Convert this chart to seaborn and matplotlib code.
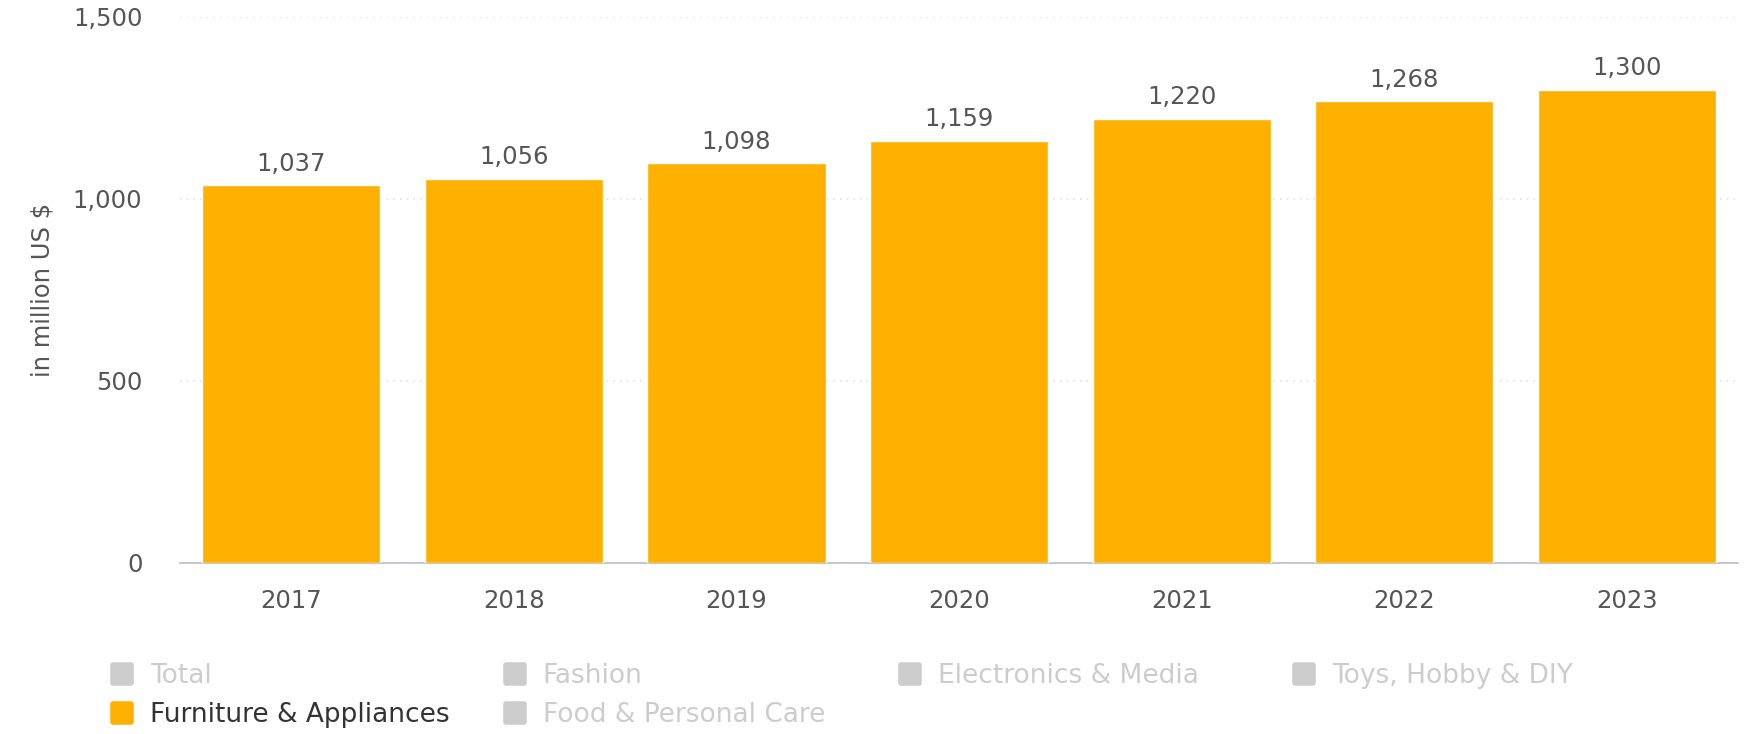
"""Furniture & Appliances revenue 2017-2023, bar chart in the style of the reference."""
import matplotlib
matplotlib.use("Agg")
import matplotlib.pyplot as plt
from matplotlib.lines import Line2D
from matplotlib.markers import MarkerStyle
from matplotlib.ticker import FuncFormatter
import pandas as pd
import seaborn as sns

years = ["2017", "2018", "2019", "2020", "2021", "2022", "2023"]
revenue = [1037, 1056, 1098, 1159, 1220, 1268, 1300]
yticks = [0, 500, 1000, 1500]
legend_labels = ["Total", "Furniture & Appliances", "Fashion", "Food & Personal Care",
                 "Electronics & Media", "Toys, Hobby & DIY"]
legend_active = ["Furniture & Appliances"]

BAR = "#FFB000"
TEXT = "#555555"
GREY = "#cccccc"
FS = 17.5

sns.set_theme(style="white")
plt.rcParams["font.family"] = ["DejaVu Sans"]

df = pd.DataFrame({"year": years, "revenue": revenue})

fig = plt.figure(figsize=(17.55, 7.34), dpi=100)
ax = fig.add_axes([0.1025, 0.233, 0.888, 0.744])

sns.barplot(data=df, x="year", y="revenue", color=BAR, saturation=1,
            width=0.8, ax=ax, zorder=3)
ax.bar_label(ax.containers[0], labels=[f"{v:,}" for v in revenue],
             padding=7, fontsize=FS, color=TEXT)

ax.set_xlim(-0.5, len(years) - 0.5)
ax.set_ylim(0, 1500)
ax.set_yticks(yticks)
ax.yaxis.set_major_formatter(FuncFormatter(lambda v, _: f"{v:,.0f}"))
ax.tick_params(axis="y", length=0, pad=27, labelsize=FS, labelcolor=TEXT)
ax.tick_params(axis="x", length=0, pad=19, labelsize=FS, labelcolor=TEXT)
ax.set_xlabel("")
ax.set_ylabel("in million US $", fontsize=FS, color=TEXT, labelpad=13)

ax.grid(axis="y", color="#e2e2e2", linestyle=(0, (1, 3)), linewidth=1.2, zorder=0)
for side in ("top", "right", "left"):
    ax.spines[side].set_visible(False)
ax.spines["bottom"].set_color("#b8bfcc")
ax.spines["bottom"].set_linewidth(1.2)

# legend: 4 columns laid out like the reference (column-wise)
columns = [legend_labels[0:2], legend_labels[2:4], legend_labels[4:5], legend_labels[5:6]]
col_x = [0.0621, 0.286, 0.511, 0.7356]
for labels, x in zip(columns, col_x):
    handles = []
    for lab in labels:
        c = BAR if lab in legend_active else GREY
        handles.append(Line2D([], [], linestyle="none", color=c,
                              marker=MarkerStyle("s", joinstyle="round"),
                              markersize=12.5, markeredgewidth=4,
                              markerfacecolor=c, markeredgecolor=c))
    y = 0.052 if len(labels) == 2 else 0.079
    leg = fig.legend(handles, labels, loc="center left", bbox_to_anchor=(x, y),
                     frameon=False, fontsize=19, handlelength=1.0,
                     handletextpad=0.55, labelspacing=0.5, borderpad=0,
                     borderaxespad=0)
    for t, lab in zip(leg.get_texts(), labels):
        t.set_color("#333333" if lab in legend_active else GREY)

fig.savefig("out.png", dpi=100)
plt.close(fig)
